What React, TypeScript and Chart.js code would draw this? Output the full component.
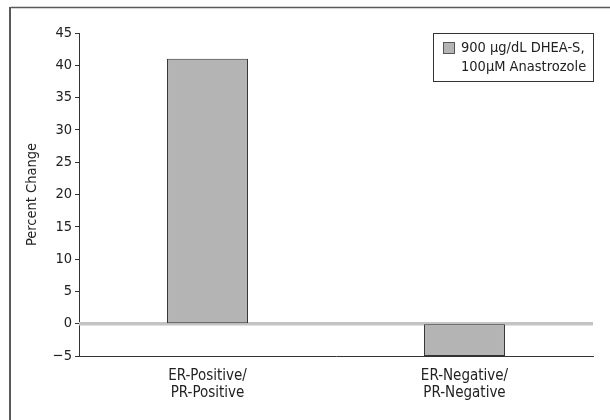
import React, { useEffect, useRef } from "react";
import { Chart, registerables } from "chart.js";

Chart.register(...registerables);

const CATEGORIES: string[][] = [
  ["ER-Positive/", "PR-Positive"],
  ["ER-Negative/", "PR-Negative"],
];
const VALUES: number[] = [41, -5];
const LEGEND_LINES: string[] = ["900 \u03bcg/dL DHEA-S,", "100\u03bcM Anastrozole"];
const Y_MIN = -5;
const Y_MAX = 45;
const Y_STEP = 5;
const Y_TITLE = "Percent Change";

const FONT = "'Liberation Sans Narrow', 'DejaVu Sans Condensed', 'Roboto', sans-serif";
const BAR_FILL = "#b4b4b4";
const DARK = "#333333";

const framePlugin = {
  id: "frame",
  beforeDraw(chart: any) {
    const ctx = chart.ctx;
    ctx.save();
    ctx.fillStyle = "#ffffff";
    ctx.fillRect(0, 0, chart.width, chart.height);
    ctx.strokeStyle = "#5a5a5a";
    ctx.lineWidth = 1.5;
    ctx.beginPath();
    ctx.moveTo(chart.width, 7.5);
    ctx.lineTo(10.5, 7.5);
    ctx.stroke();
    ctx.lineWidth = 2;
    ctx.beginPath();
    ctx.moveTo(10, 7);
    ctx.lineTo(10, chart.height);
    ctx.stroke();
    ctx.restore();
  },
};

const zeroLinePlugin = {
  id: "zeroLine",
  beforeDatasetsDraw(chart: any) {
    const { ctx, chartArea, scales } = chart;
    const y = scales.y.getPixelForValue(0);
    ctx.save();
    ctx.strokeStyle = "#c4c4c4";
    ctx.lineWidth = 3.5;
    ctx.beginPath();
    ctx.moveTo(chartArea.left, y);
    ctx.lineTo(chartArea.right, y);
    ctx.stroke();
    ctx.restore();
  },
};

const legendPlugin = {
  id: "boxLegend",
  afterDraw(chart: any) {
    const { ctx, chartArea } = chart;
    const right = chartArea.right;
    const top = chartArea.top;
    const w = 160;
    const h = 48;
    const left = right - w;
    ctx.save();
    ctx.fillStyle = "#ffffff";
    ctx.fillRect(left, top, w, h);
    ctx.strokeStyle = DARK;
    ctx.lineWidth = 1;
    ctx.strokeRect(left + 0.5, top + 0.5, w, h);
    ctx.fillStyle = BAR_FILL;
    ctx.fillRect(left + 10, top + 9, 12, 12);
    ctx.strokeStyle = "#555555";
    ctx.strokeRect(left + 10.5, top + 9.5, 11, 11);
    ctx.fillStyle = "#222222";
    ctx.font = `14.5px ${FONT}`;
    ctx.textBaseline = "middle";
    ctx.textAlign = "left";
    LEGEND_LINES.forEach((line, i) => {
      ctx.fillText(line, left + 28, top + 15 + i * 19);
    });
    ctx.restore();
  },
};

export default function App() {
  const canvasRef = useRef<HTMLCanvasElement | null>(null);

  useEffect(() => {
    if (!canvasRef.current) return;
    const chart = new Chart(canvasRef.current, {
      type: "bar",
      data: {
        labels: CATEGORIES,
        datasets: [
          {
            label: LEGEND_LINES.join(" "),
            data: VALUES,
            backgroundColor: BAR_FILL,
            borderColor: DARK,
            borderWidth: 1,
            borderSkipped: false,
            barPercentage: 0.315,
            categoryPercentage: 1,
          },
        ],
      },
      options: {
        animation: false,
        responsive: false,
        devicePixelRatio: 1,
        layout: { padding: { left: 0, top: 33, right: 17, bottom: 0 } },
        plugins: {
          legend: { display: false },
          tooltip: { enabled: false },
        },
        scales: {
          x: {
            grid: { display: false },
            border: { display: true, color: DARK, width: 1 },
            ticks: {
              color: "#222222",
              font: { family: FONT, size: 15, lineHeight: 1.1 },
              padding: 4,
              maxRotation: 0,
            },
            afterFit(scale: any) {
              scale.height = 64;
            },
          },
          y: {
            min: Y_MIN,
            max: Y_MAX,
            grid: {
              drawOnChartArea: false,
              drawTicks: true,
              tickLength: 4,
              color: DARK,
            },
            border: { display: true, color: DARK, width: 1 },
            ticks: {
              stepSize: Y_STEP,
              color: "#222222",
              font: { family: FONT, size: 14.5 },
              padding: 3,
              callback: (v: any) => (Number(v) < 0 ? "\u2212" + Math.abs(Number(v)) : String(v)),
            },
            title: {
              display: true,
              text: Y_TITLE,
              color: "#222222",
              font: { family: FONT, size: 14.5 },
              padding: { top: 24, bottom: 0 },
            },
            afterFit(scale: any) {
              scale.width = 79;
            },
          },
        },
      },
      plugins: [framePlugin, zeroLinePlugin, legendPlugin],
    });
    return () => chart.destroy();
  }, []);

  return (
    <div style={{ position: "absolute", left: 0, top: 0, width: 610, height: 420 }}>
      <canvas ref={canvasRef} width={610} height={420} style={{ width: 610, height: 420, display: "block" }} />
    </div>
  );
}
